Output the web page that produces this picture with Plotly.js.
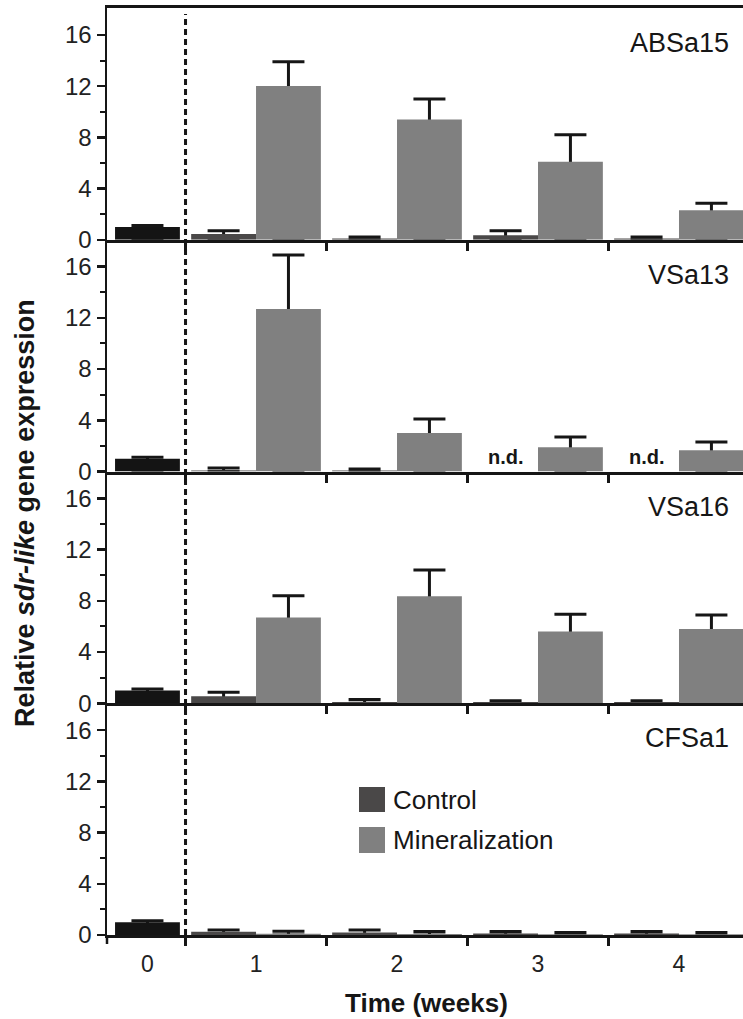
<!DOCTYPE html>
<html>
<head>
<meta charset="utf-8">
<script src="https://cdn.plot.ly/plotly-3.0.1.min.js"></script>
<style>html,body{margin:0;padding:0;background:#fff;}</style>
</head>
<body>
<div id="chart" style="width:743px;height:1019px;"></div>
<script>
// ---------------- data ----------------
const genes = ['ABSa15', 'VSa13', 'VSa16', 'CFSa1'];
const weeks = [1, 2, 3, 4];
const weekLabels = ['0', '1', '2', '3', '4'];
const seriesNames = ['Control', 'Mineralization'];

// week 0 (before treatment) relative expression, per gene
const baselineValue = [1.0, 1.0, 1.0, 1.0];
const baselineErr = [0.12, 0.12, 0.12, 0.12];

// ABSa15
const absa15Control = [0.45, 0.1, 0.35, 0.1];
const absa15ControlErr = [0.25, 0.12, 0.35, 0.12];
const absa15Mineral = [12.0, 9.4, 6.1, 2.3];
const absa15MineralErr = [1.9, 1.6, 2.1, 0.55];

// VSa13 (null = n.d.)
const vsa13Control = [0.08, 0.08, null, null];
const vsa13ControlErr = [0.2, 0.12, null, null];
const vsa13Mineral = [12.7, 3.0, 1.9, 1.65];
const vsa13MineralErr = [4.2, 1.1, 0.8, 0.65];

// VSa16
const vsa16Control = [0.55, 0.1, 0.1, 0.1];
const vsa16ControlErr = [0.3, 0.2, 0.1, 0.1];
const vsa16Mineral = [6.7, 8.35, 5.6, 5.8];
const vsa16MineralErr = [1.7, 2.05, 1.35, 1.1];

// CFSa1
const cfsa1Control = [0.25, 0.2, 0.12, 0.12];
const cfsa1ControlErr = [0.15, 0.2, 0.15, 0.15];
const cfsa1Mineral = [0.1, 0.08, 0.05, 0.05];
const cfsa1MineralErr = [0.2, 0.2, 0.15, 0.15];

const controlSets = [absa15Control, vsa13Control, vsa16Control, cfsa1Control];
const controlErrSets = [absa15ControlErr, vsa13ControlErr, vsa16ControlErr, cfsa1ControlErr];
const mineralSets = [absa15Mineral, vsa13Mineral, vsa16Mineral, cfsa1Mineral];
const mineralErrSets = [absa15MineralErr, vsa13MineralErr, vsa16MineralErr, cfsa1MineralErr];

// ---------------- style ----------------
const FONT = 'Arial, "Liberation Sans", sans-serif';
const INK = '#161616';
const baselineColor = '#141414';
const controlColor = '#4a4848';
const mineralColor = '#808080';
const BAR_W = 0.46;

const W = 743, H = 1019;
const M = {l: 107, r: 0, t: 8, b: 84};
const PW = W - M.l - M.r, PH = H - M.t - M.b;
const px2x = p => (p - M.l) / PW;
const px2y = p => (H - M.b - p) / PH;

const errTraces = [];
const barTraces = [];
const annotations = [];
const shapes = [];
const layout = {
  width: W, height: H,
  margin: M,
  paper_bgcolor: '#fff', plot_bgcolor: '#fff',
  barmode: 'overlay',
  showlegend: false,
  font: {family: FONT, color: INK, size: 22}
};

// a bar series = visible bars + an upward-only error bar drawn beneath them
function addSeries(x, y, err, offset, color, xa, ya, name) {
  errTraces.push({
    type: 'bar', x: x, y: y, xaxis: xa, yaxis: ya,
    offset: offset, width: BAR_W, marker: {color: 'rgba(0,0,0,0)', line: {width: 0}},
    error_y: {type: 'data', symmetric: false, array: err,
              arrayminus: y.map(v => v), color: INK, thickness: 3, width: 16},
    hoverinfo: 'skip', name: name + ' error'
  });
  barTraces.push({
    type: 'bar', x: x, y: y, xaxis: xa, yaxis: ya,
    offset: offset, width: BAR_W, marker: {color: color, line: {width: 0}},
    name: name
  });
}

const nP = genes.length;
genes.forEach((g, i) => {
  const xa = i === 0 ? 'x' : 'x' + (i + 1);
  const ya = i === 0 ? 'y' : 'y' + (i + 1);
  const xKey = i === 0 ? 'xaxis' : 'xaxis' + (i + 1);
  const yKey = i === 0 ? 'yaxis' : 'yaxis' + (i + 1);
  const top = 1 - i / nP, bot = 1 - (i + 1) / nP;
  const isBottom = i === nP - 1;

  addSeries([0], [baselineValue[i]], [baselineErr[i]], 0, baselineColor, xa, ya, 'Week 0');
  addSeries(weeks, controlSets[i], controlErrSets[i], -BAR_W, controlColor, xa, ya, seriesNames[0]);
  addSeries(weeks, mineralSets[i], mineralErrSets[i], 0, mineralColor, xa, ya, seriesNames[1]);

  // n.d. labels for missing control values
  controlSets[i].forEach((v, k) => {
    if (v === null) {
      annotations.push({
        xref: xa, yref: ya, x: weeks[k] - BAR_W / 2, y: 0, yanchor: 'bottom', yshift: 2,
        text: '<b>n.d.</b>', showarrow: false, font: {size: 20, color: INK}
      });
    }
  });

  // panel label
  annotations.push({
    xref: 'paper', yref: ya + ' domain', x: px2x(731), y: 1 - 35 / (PH / nP),
    xanchor: 'right', yanchor: 'middle', text: g, showarrow: false,
    font: {size: 27, color: INK}
  });

  layout[xKey] = {
    anchor: ya, domain: [0, 1], range: [-0.057, 4.454],
    matches: i === 0 ? undefined : 'x',
    showline: true, linewidth: 3, linecolor: INK, mirror: i === 0 ? true : false,
    showgrid: false, zeroline: false,
    tickmode: 'array', tickvals: [0.23].concat(weeks), ticktext: weekLabels,
    ticks: '', showticklabels: isBottom, ticklabelstandoff: 6,
    tickfont: {size: 23, color: '#222'},
    minor: {tickmode: 'array', tickvals: [0.5, 1.5, 2.5, 3.5], ticks: 'outside',
            ticklen: 8, tickwidth: 2.5, tickcolor: INK},
    fixedrange: true
  };
  layout[yKey] = {
    anchor: xa, domain: [bot, top], range: [0, 18.1],
    showline: true, linewidth: 2.5, linecolor: INK,
    showgrid: false, zeroline: false,
    tickmode: 'array', tickvals: [0, 4, 8, 12, 16],
    ticks: 'outside', ticklen: 8, tickwidth: 2.5, tickcolor: INK,
    minor: {tickmode: 'array', tickvals: [2, 6, 10, 14], ticks: 'outside', ticklen: 5, tickwidth: 2, tickcolor: INK},
    tickfont: {size: 24, color: '#222'},
    fixedrange: true
  };
});

// dashed separator between week 0 and treatment weeks
shapes.push({type: 'line', xref: 'x', yref: 'paper', x0: 0.5, x1: 0.5, y0: 0, y1: 1 - 6 / PH,
             line: {color: INK, width: 3, dash: '6px,4px'}});
// y axis line extension below bottom axis
shapes.push({type: 'line', xref: 'paper', yref: 'paper', x0: 0, x1: 0, y0: 0, y1: -9 / PH,
             line: {color: INK, width: 2.5}});

// legend (drawn manually with large swatches)
const legendColors = [controlColor, mineralColor];
const legendRows = [[787, 812, 800], [827, 853, 840]];
seriesNames.forEach((n, k) => {
  const r = legendRows[k];
  shapes.push({type: 'rect', xref: 'paper', yref: 'paper',
               x0: px2x(359), x1: px2x(385), y0: px2y(r[1]), y1: px2y(r[0]),
               fillcolor: legendColors[k], line: {width: 0}});
  annotations.push({xref: 'paper', yref: 'paper', x: px2x(391), y: px2y(r[2]),
                    xanchor: 'left', yanchor: 'middle', text: n, showarrow: false,
                    font: {size: 26, color: INK}});
});

// axis titles
annotations.push({xref: 'paper', yref: 'paper', x: px2x(25), y: px2y(513),
                  xanchor: 'center', yanchor: 'middle', textangle: -90, showarrow: false,
                  text: '<b>Relative <i>sdr-like</i> gene expression</b>',
                  font: {size: 27, color: INK}});
annotations.push({xref: 'paper', yref: 'paper', x: px2x(426), y: px2y(1003),
                  xanchor: 'center', yanchor: 'middle', showarrow: false,
                  text: '<b>Time (weeks)</b>', font: {size: 26, color: INK}});

layout.shapes = shapes;
layout.annotations = annotations;

Plotly.newPlot('chart', errTraces.concat(barTraces), layout, {displayModeBar: false, staticPlot: true});
</script>
</body>
</html>
